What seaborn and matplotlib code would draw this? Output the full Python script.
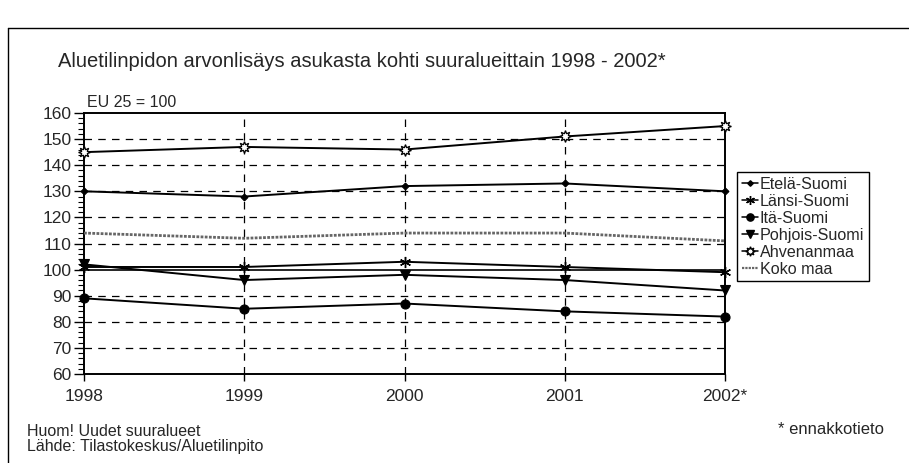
import numpy as np
import pandas as pd
import seaborn as sns
import matplotlib.pyplot as plt
from matplotlib.lines import Line2D

sns.set_theme(style="white")
plt.rcParams['font.family'] = ['Liberation Sans', 'DejaVu Sans']

# data
years = [1998, 1999, 2000, 2001, 2002]
year_labels = ["1998", "1999", "2000", "2001", "2002*"]

etela_suomi = [130, 128, 132, 133, 130]
lansi_suomi = [101, 101, 103, 101, 99]
ita_suomi = [89, 85, 87, 84, 82]
pohjois_suomi = [102, 96, 98, 96, 92]
ahvenanmaa = [145, 147, 146, 151, 155]
koko_maa = [114, 112, 114, 114, 111]

series_names = ["Etelä-Suomi", "Länsi-Suomi", "Itä-Suomi", "Pohjois-Suomi", "Ahvenanmaa", "Koko maa"]
series_values = [etela_suomi, lansi_suomi, ita_suomi, pohjois_suomi, ahvenanmaa, koko_maa]

# marker style per series
styles = {
    "Etelä-Suomi": dict(marker="D", markersize=3.5, color="black", lw=1.4),
    "Länsi-Suomi": dict(marker=(6, 2, 0), markersize=8, color="black", lw=1.4, mew=1.0),
    "Itä-Suomi": dict(marker="o", markersize=6.5, color="black", lw=1.4),
    "Pohjois-Suomi": dict(marker="v", markersize=7, color="black", lw=1.4),
    "Ahvenanmaa": dict(marker=(8, 1, 0), markersize=8.5, color="black", lw=1.4, mfc="white", mew=0.9),
    "Koko maa": dict(marker=None, color="#666666", lw=2.0, ls=(0, (1, 0.5))),
}

df = pd.DataFrame({
    "year": np.tile(years, len(series_names)),
    "value": np.concatenate(series_values),
    "series": np.repeat(series_names, len(years)),
})

fig = plt.figure(figsize=(9.09, 4.63), dpi=100)
ax = fig.add_axes([84 / 909, 1 - 374 / 463, (725 - 84) / 909, (374 - 113) / 463])

for name in series_names:
    st = styles[name]
    sub = df[df["series"] == name]
    sns.lineplot(data=sub, x="year", y="value", ax=ax, color=st["color"], linewidth=st["lw"],
                 marker=st.get("marker"), markersize=st.get("markersize", 0),
                 markerfacecolor=st.get("mfc", "black"), markeredgecolor="black",
                 markeredgewidth=st.get("mew", 0.8), linestyle=st.get("ls", "-"),
                 label=name, legend=False, zorder=4, clip_on=False)

ax.set_xlim(1998, 2002)
ax.set_ylim(60, 160)
ax.set_xticks(years)
ax.set_xticklabels(year_labels)
ax.set_yticks(range(60, 161, 10))
ax.set_yticks(range(60, 161, 2), minor=True)
ax.set_xlabel("")
ax.set_ylabel("")

# dashed grid, solid line at the EU level
for yv in range(70, 160, 10):
    if yv == 100:
        ax.axhline(yv, color="black", lw=1.2, zorder=2)
    else:
        ax.axhline(yv, color="black", lw=0.9, ls=(0, (6, 5)), zorder=1)
for xv in years[1:-1]:
    ax.axvline(xv, color="black", lw=0.9, ls=(0, (6, 5)), zorder=1)

for sp in ax.spines.values():
    sp.set_color("black")
    sp.set_linewidth(1.4)

ax.tick_params(axis="y", which="major", direction="out", length=7, width=1.0, color="black",
               labelsize=12.5, pad=2, left=True)
ax.tick_params(axis="y", which="minor", direction="out", length=4, width=0.8, color="black", left=True)
ax.tick_params(axis="x", which="major", direction="out", length=5, width=1.0, color="black",
               labelsize=12.5, pad=6, bottom=True)

# legend
handles = []
for name in series_names:
    st = styles[name]
    handles.append(Line2D([], [], color=st["color"], lw=st["lw"] * 0.8, marker=st.get("marker"),
                          markersize=st.get("markersize", 0) * 0.8,
                          markerfacecolor=st.get("mfc", "black"), markeredgecolor="black",
                          linestyle=st.get("ls", "-")))
leg = fig.legend(handles, series_names, loc="upper left", bbox_to_anchor=(737 / 909, 1 - 172 / 463),
                 fontsize=11.6, frameon=True, fancybox=False, edgecolor="black", framealpha=1,
                 handlelength=1.0, handletextpad=0.1, labelspacing=0.12, borderpad=0.3,
                 borderaxespad=0)
leg.get_frame().set_linewidth(1.0)

# texts
fig.text(58 / 909, 1 - 67 / 463, "Aluetilinpidon arvonlisäys asukasta kohti suuralueittain 1998 - 2002*",
         fontsize=14.5, va="baseline", ha="left")
fig.text(87 / 909, 1 - 107 / 463, "EU 25 = 100", fontsize=11.5, va="baseline", ha="left")
fig.text(27 / 909, 1 - 436 / 463, "Huom! Uudet suuralueet", fontsize=11.5, va="baseline", ha="left")
fig.text(27 / 909, 1 - 451 / 463, "Lähde: Tilastokeskus/Aluetilinpito", fontsize=11.5, va="baseline", ha="left")
fig.text(778 / 909, 1 - 434 / 463, "* ennakkotieto", fontsize=12, va="baseline", ha="left")

# outer frame (left and top edges)
fig.add_artist(Line2D([8 / 909, 8 / 909], [0, 1 - 28 / 463], color="black", lw=1.0, transform=fig.transFigure))
fig.add_artist(Line2D([8 / 909, 1], [1 - 28 / 463, 1 - 28 / 463], color="black", lw=1.0, transform=fig.transFigure))

fig.savefig("out.png", dpi=100)
